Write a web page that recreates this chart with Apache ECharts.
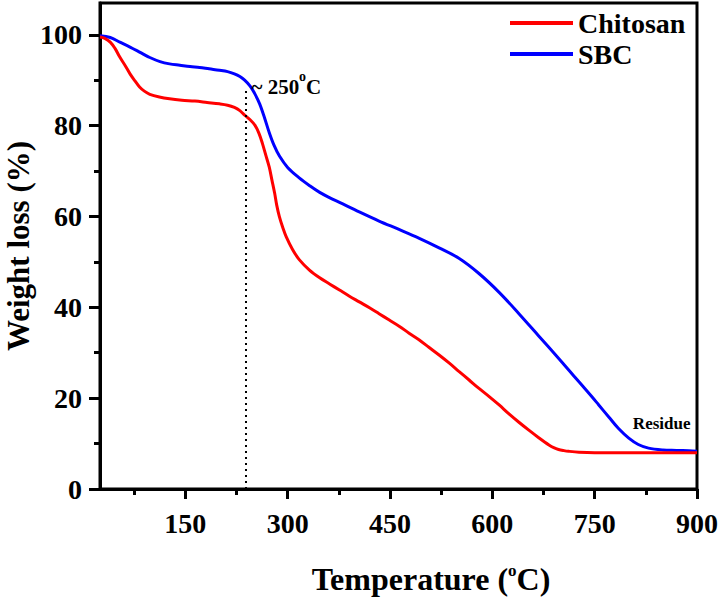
<!DOCTYPE html>
<html>
<head>
<meta charset="utf-8">
<script src="https://cdn.jsdelivr.net/npm/echarts@6/dist/echarts.min.js"></script>
<style>html,body{margin:0;padding:0;background:#fff;}#c{width:721px;height:597px;}</style>
</head>
<body>
<div id="c"></div>
<script>
const seriesNames = ['Chitosan', 'SBC'];
const chitosanT = [25, 32, 40, 47, 54, 62, 69, 76, 83, 90, 98, 112, 127, 145, 164, 182, 200, 212, 222, 230, 237, 245, 252, 258, 263, 268, 273, 277, 281, 284, 288, 293, 298, 307, 317, 332, 347, 362, 376, 390, 405, 420, 434, 449, 464, 478, 493, 507, 522, 537, 551, 566, 580, 595, 610, 624, 639, 654, 668, 683, 690, 697, 705, 712, 727, 750, 800, 850, 900];
const chitosanW = [99.5, 99.2, 98.4, 97.0, 95.1, 93.2, 91.4, 89.9, 88.5, 87.6, 86.9, 86.3, 85.9, 85.6, 85.4, 85.1, 84.8, 84.5, 84.0, 83.3, 82.3, 81.3, 80.1, 78.3, 76.1, 73.5, 70.9, 68.0, 65.1, 62.5, 59.9, 57.5, 55.5, 52.8, 50.5, 48.2, 46.5, 45.1, 43.8, 42.5, 41.2, 39.9, 38.6, 37.2, 35.8, 34.3, 32.8, 31.2, 29.5, 27.7, 25.9, 24.0, 22.2, 20.4, 18.5, 16.6, 14.7, 12.9, 11.3, 9.7, 9.1, 8.7, 8.45, 8.3, 8.1, 8.0, 8.0, 8.0, 8.0];
const sbcT = [25, 40, 54, 69, 83, 98, 113, 127, 142, 157, 171, 185, 200, 212, 222, 230, 237, 245, 252, 259, 266, 273, 280, 288, 300, 317, 333, 347, 362, 376, 405, 434, 464, 493, 522, 551, 580, 610, 639, 668, 697, 712, 727, 746, 756, 771, 785, 800, 814, 829, 850, 870, 888, 900];
const sbcW = [99.8, 99.4, 98.4, 97.3, 96.2, 95.0, 94.1, 93.6, 93.3, 93.0, 92.8, 92.5, 92.2, 91.9, 91.4, 90.8, 90.0, 88.7, 87.0, 84.8, 81.8, 78.5, 75.7, 73.3, 70.8, 68.5, 66.7, 65.3, 64.1, 63.1, 61.0, 59.0, 57.1, 55.2, 53.1, 50.8, 47.5, 43.3, 38.6, 33.7, 28.8, 26.2, 23.6, 20.3, 18.5, 15.8, 13.3, 11.2, 9.8, 9.0, 8.6, 8.5, 8.4, 8.3];
const xMajorTicks = [150, 300, 450, 600, 750, 900];
const xMinorTicks = [75, 225, 375, 525, 675, 825];
const yMajorTicks = [0, 20, 40, 60, 80, 100];
const yMinorTicks = [10, 30, 50, 70, 90];
const onsetTemp = 238;
const onsetWeight = 88.5;
const onsetLabelPos = [247, 88.6];
const residueLabelPos = [806, 14.4];

const FF = "'Liberation Serif', 'Times New Roman', serif";
const zip = (a, b) => a.map((v, i) => [v, b[i]]);

const chart = echarts.init(document.getElementById('c'), null, {renderer: 'svg'});
const tickStyle = {color: '#000', width: 3};
const labelStyle = {fontSize: 28, fontWeight: 'bold', color: '#000', fontFamily: FF};

chart.setOption({
  animation: false,
  backgroundColor: '#fff',
  grid: {left: 100, right: 23, top: 3, bottom: 108, show: true, borderColor: '#000', borderWidth: 3},
  legend: {
    orient: 'vertical', left: 505, top: 4, itemGap: 3, itemWidth: 63, itemHeight: 4,
    icon: 'rect', data: seriesNames,
    textStyle: {fontSize: 28, fontWeight: 'bold', color: '#000', fontFamily: FF}
  },
  xAxis: [
    {type: 'value', min: 25, max: 900, position: 'bottom',
     axisLine: {lineStyle: tickStyle},
     axisTick: {customValues: xMajorTicks, length: 10, lineStyle: tickStyle},
     axisLabel: Object.assign({customValues: xMajorTicks, margin: 20}, labelStyle),
     splitLine: {show: false}},
    {type: 'value', min: 25, max: 900, position: 'bottom',
     axisLine: {show: false},
     axisTick: {customValues: xMinorTicks, length: 6, lineStyle: tickStyle},
     axisLabel: {show: false}, splitLine: {show: false}}
  ],
  yAxis: [
    {type: 'value', min: 0, max: 107, position: 'left',
     axisLine: {show: true, lineStyle: tickStyle},
     axisTick: {show: true, customValues: yMajorTicks, length: 11, lineStyle: tickStyle},
     axisLabel: Object.assign({customValues: yMajorTicks, margin: 18}, labelStyle),
     splitLine: {show: false}},
    {type: 'value', min: 0, max: 107, position: 'left',
     axisLine: {show: false},
     axisTick: {show: true, customValues: yMinorTicks, length: 6, lineStyle: tickStyle},
     axisLabel: {show: false}, splitLine: {show: false}}
  ],
  series: [
    {name: 'SBC', type: 'line', data: zip(sbcT, sbcW), showSymbol: false, symbol: 'none',
     smooth: 0.35, color: '#0000ff', lineStyle: {width: 3, color: '#0000ff'}},
    {name: 'Chitosan', type: 'line', data: zip(chitosanT, chitosanW), showSymbol: false, symbol: 'none',
     smooth: 0.35, color: '#ff0000', lineStyle: {width: 3, color: '#ff0000'},
     markLine: {silent: true, symbol: 'none', label: {show: false},
       lineStyle: {color: '#000', width: 2, type: [2, 4]},
       data: [[{coord: [onsetTemp, 0]}, {coord: [onsetTemp, onsetWeight]}]]},
     markPoint: {silent: true, symbol: 'circle', symbolSize: 0,
       data: [
         {coord: onsetLabelPos, label: {show: true, position: 'right', distance: 0,
           formatter: '{a|~ 250}{s|o}{a|C}',
           rich: {a: {fontSize: 21, fontWeight: 'bold', color: '#000', fontFamily: FF, lineHeight: 34},
                  s: {fontSize: 14, fontWeight: 'bold', color: '#000', fontFamily: FF, verticalAlign: 'top', lineHeight: 14}}}},
         {coord: residueLabelPos, label: {show: true, position: 'right', distance: 0,
           formatter: 'Residue', fontSize: 17, fontWeight: 'bold', color: '#000', fontFamily: FF}}
       ]}}
  ],
  graphic: [
    {type: 'text', x: 18, y: 246, rotation: Math.PI / 2,
     style: {text: 'Weight loss (%)', fontSize: 31, fontWeight: 'bold', fill: '#000', fontFamily: FF,
             align: 'center', verticalAlign: 'middle'}},
    {type: 'text', x: 431, y: 579,
     style: {text: '{a|Temperature (}{s|o}{a|C)}', align: 'center', verticalAlign: 'middle',
             rich: {a: {fontSize: 32, fontWeight: 'bold', fill: '#000', color: '#000', fontFamily: FF, lineHeight: 34},
                    s: {fontSize: 17, fontWeight: 'bold', fill: '#000', color: '#000', fontFamily: FF, verticalAlign: 'top', lineHeight: 17}}}}
  ]
});
</script>
</body>
</html>
